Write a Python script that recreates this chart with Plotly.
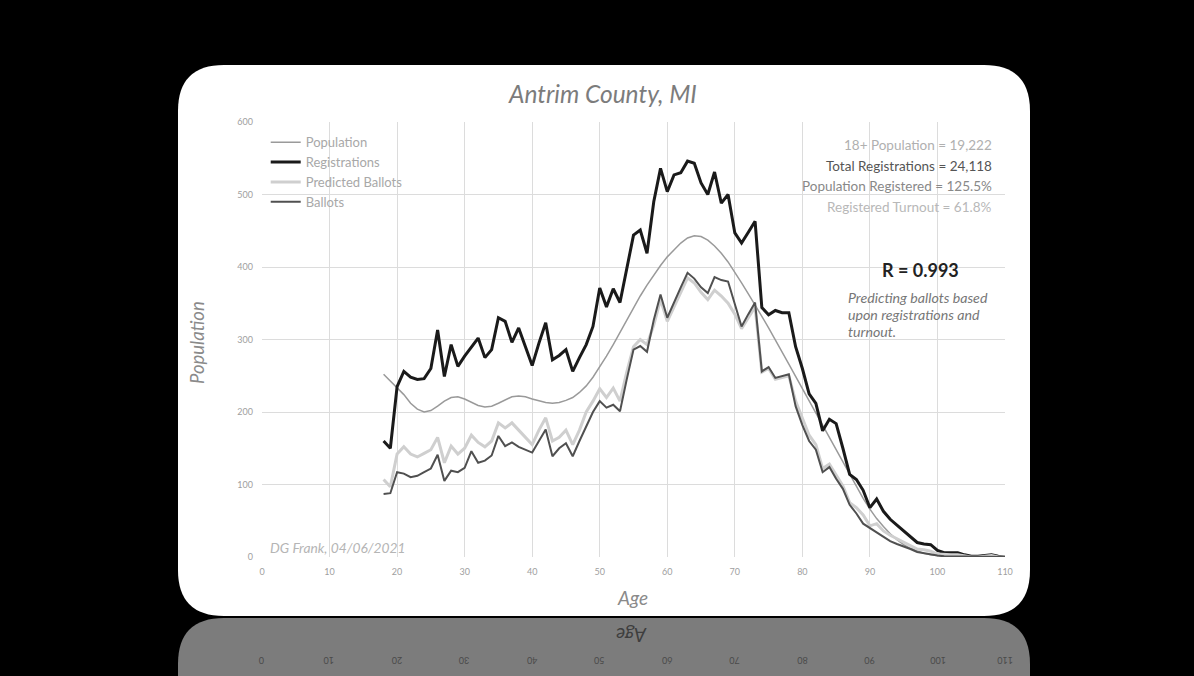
import plotly.graph_objects as go

# ---------------- data ----------------
ages = list(range(18, 111))

population = [252, 243, 234, 224, 212, 204, 200, 202, 208, 215, 220, 221, 218, 213, 209, 207, 208, 212,
              217, 221, 222, 221, 218, 215, 213, 212, 213, 216, 220, 227, 236, 248, 262, 277, 293, 310,
              327, 344, 360, 375, 389, 402, 414, 424, 433, 440, 443, 442, 437, 429, 419, 407, 393, 378,
              363, 348, 332, 316, 300, 284, 266, 249, 232, 215, 198, 181, 164, 147, 130, 113, 97, 81,
              66, 53, 42, 32, 24, 17, 12, 8, 5, 3, 2, 1, None, None, None, None, None, None, None, None, None]

registrations = [160, 150, 235, 256, 248, 245, 246, 260, 313, 249, 293, 263, 277, 290, 302, 275, 286, 330,
                 325, 296, 316, 290, 264, 295, 323, 272, 278, 286, 256, 275, 293, 318, 371, 345, 370, 351,
                 399, 444, 451, 419, 490, 536, 504, 527, 530, 546, 543, 516, 500, 531, 488, 500, 447, 433,
                 448, 463, 344, 334, 340, 337, 337, 290, 260, 225, 212, 174, 190, 184, 150, 114, 107, 92,
                 68, 80, 63, 52, 44, 36, 27, 20, 18, 17, 9, 6, 6, 6, 3, 1, 1, 2, 3, 1, 0]

predicted = [107, 97, 142, 152, 142, 138, 143, 148, 165, 130, 153, 142, 150, 168, 158, 152, 160, 185,
             178, 185, 175, 165, 155, 175, 192, 160, 165, 175, 155, 175, 200, 215, 232, 220, 233, 215,
             255, 290, 300, 293, 320, 355, 325, 345, 365, 385, 378, 365, 355, 368, 360, 350, 335, 315,
             330, 345, 255, 260, 245, 248, 250, 215, 192, 168, 155, 122, 128, 113, 98, 75, 68, 58,
             43, 46, 36, 30, 25, 20, 15, 11, 10, 8, 4, 3, 3, 3, 1, 0, 0, 1, 2, 0, 0]

ballots = [87, 88, 117, 115, 110, 112, 117, 122, 141, 105, 119, 117, 123, 146, 130, 133, 140, 167,
           153, 158, 152, 148, 144, 160, 176, 139, 150, 157, 139, 160, 180, 200, 215, 206, 210, 201,
           245, 286, 291, 283, 327, 362, 330, 352, 372, 392, 384, 372, 364, 386, 382, 380, 350, 318,
           335, 351, 256, 262, 247, 250, 252, 208, 182, 160, 148, 117, 124, 108, 94, 72, 60, 46,
           40, 33, 28, 22, 18, 15, 11, 7, 5, 4, 2, 1, 1, 1, 0, 0, 0, 1, 1, 0, 0]

x_ticks = list(range(0, 111, 10))
y_ticks = list(range(0, 601, 100))

stats_lines = ["18+ Population = 19,222", "Total Registrations = 24,118",
               "Population Registered = 125.5%", "Registered Turnout = 61.8%"]
stats_colors = ["#b0b0b0", "#555555", "#888888", "#b8b8b8"]

note_lines = ["Predicting ballots based", "upon registrations and", "turnout."]

# ---------------- layout geometry (pixels) ----------------
W, H = 1194, 676
PL, PR, PT, PB = 262, 1005, 122, 557   # plot area


def px2paper(x, y):
    return (x - PL) / (PR - PL), (PB - y) / (PB - PT)


def rounded_path(x0, y0, x1, y1, r, top=True, bottom=True):
    def P(x, y):
        a, b = px2paper(x, y)
        return f"{a:.5f},{b:.5f}"
    rt = r if top else 0
    rb = r if bottom else 0
    s = f"M {P(x0 + rt, y0)} L {P(x1 - rt, y0)} "
    if rt:
        s += f"Q {P(x1, y0)} {P(x1, y0 + rt)} "
    s += f"L {P(x1, y1 - rb)} "
    if rb:
        s += f"Q {P(x1, y1)} {P(x1 - rb, y1)} "
    s += f"L {P(x0 + rb, y1)} "
    if rb:
        s += f"Q {P(x0, y1)} {P(x0, y1 - rb)} "
    s += f"L {P(x0, y0 + rt)} "
    if rt:
        s += f"Q {P(x0, y0)} {P(x0 + rt, y0)} "
    s += "Z"
    return s


FONT = "Lato, 'Open Sans', sans-serif"


def ann(x, y, text, size, color, xanchor="center", angle=0):
    ax_, ay_ = px2paper(x, y)
    return dict(x=ax_, y=ay_, xref="paper", yref="paper", text=text, showarrow=False,
                textangle=angle, font=dict(family=FONT, size=size, color=color),
                xanchor=xanchor, yanchor="middle")


fig = go.Figure()

fig.add_trace(go.Scatter(x=ages, y=population, mode="lines", name="Population",
                         line=dict(color="#9a9a9a", width=1.5), connectgaps=False))
fig.add_trace(go.Scatter(x=ages, y=registrations, mode="lines", name="Registrations",
                         line=dict(color="#1a1a1a", width=3)))
fig.add_trace(go.Scatter(x=ages, y=predicted, mode="lines", name="Predicted Ballots",
                         line=dict(color="#cfcfcf", width=3)))
fig.add_trace(go.Scatter(x=ages, y=ballots, mode="lines", name="Ballots",
                         line=dict(color="#505050", width=2)))

shapes = [
    dict(type="path", xref="paper", yref="paper", layer="below",
         path=rounded_path(178, 65, 1030, 616, 46),
         fillcolor="white", line=dict(width=0)),
    dict(type="path", xref="paper", yref="paper", layer="below",
         path=rounded_path(178, 618, 1030, 740, 46, top=True, bottom=False),
         fillcolor="#7c7c7c", line=dict(width=0)),
]

annotations = []
annotations.append(ann(602, 93, "<i>Antrim County, MI</i>", 24.5, "#7c7c7c"))
annotations.append(ann(632, 597, "<i>Age</i>", 19, "#8a8a8a"))
annotations.append(ann(197, 343, "<i>Population</i>", 18.5, "#8a8a8a", angle=-90))
for i, (t, c) in enumerate(zip(stats_lines, stats_colors)):
    annotations.append(ann(994, 145 + i * 20.7, t, 13.5, c, xanchor="right"))
annotations.append(ann(920, 270, "<b>R = 0.993</b>", 18, "#222222"))
for i, t in enumerate(note_lines):
    annotations.append(ann(846, 297 + i * 17, f"<i>{t}</i>", 14.2, "#777777", xanchor="left"))
annotations.append(ann(268, 547, "<i>DG Frank, 04/06/2021</i>", 13.8, "#b5b5b5", xanchor="left"))
# reflection (mirrored bottom strip)
annotations.append(ann(632, 636, "<i>Age</i>", 19, "#3e3e3e", angle=180))
for v in x_ticks:
    annotations.append(ann(PL + v * (PR - PL) / 110, 661, str(v), 9, "#4a4a4a", angle=180))

fig.update_layout(
    width=W, height=H,
    margin=dict(l=PL, r=W - PR, t=PT, b=H - PB, autoexpand=False),
    paper_bgcolor="black",
    plot_bgcolor="#ebebeb",
    showlegend=True,
    legend=dict(x=0.005, y=0.988, xanchor="left", yanchor="top", bgcolor="rgba(0,0,0,0)",
                font=dict(family=FONT, size=13, color="#a8a8a8"), itemwidth=30, tracegroupgap=0),
    xaxis=dict(range=[0, 110], tickvals=x_ticks, showgrid=True, gridcolor="#dcdcdc", gridwidth=1,
               zeroline=False, showline=False, ticks="", ticklabelstandoff=8,
               tickfont=dict(family=FONT, size=9, color="#a0a0a0")),
    yaxis=dict(range=[0, 600], tickvals=y_ticks, showgrid=True, gridcolor="#dcdcdc", gridwidth=1,
               zeroline=False, showline=False, ticks="", ticklabelstandoff=8,
               tickfont=dict(family=FONT, size=9, color="#a0a0a0")),
    shapes=shapes,
    annotations=annotations,
)

fig.write_html(
    "out.html",
    config={"displayModeBar": False},
    post_script="document.body.style.margin='0';document.body.style.padding='0';"
                "document.body.style.background='black';document.body.style.overflow='hidden';"
                "document.documentElement.style.background='black';",
)
